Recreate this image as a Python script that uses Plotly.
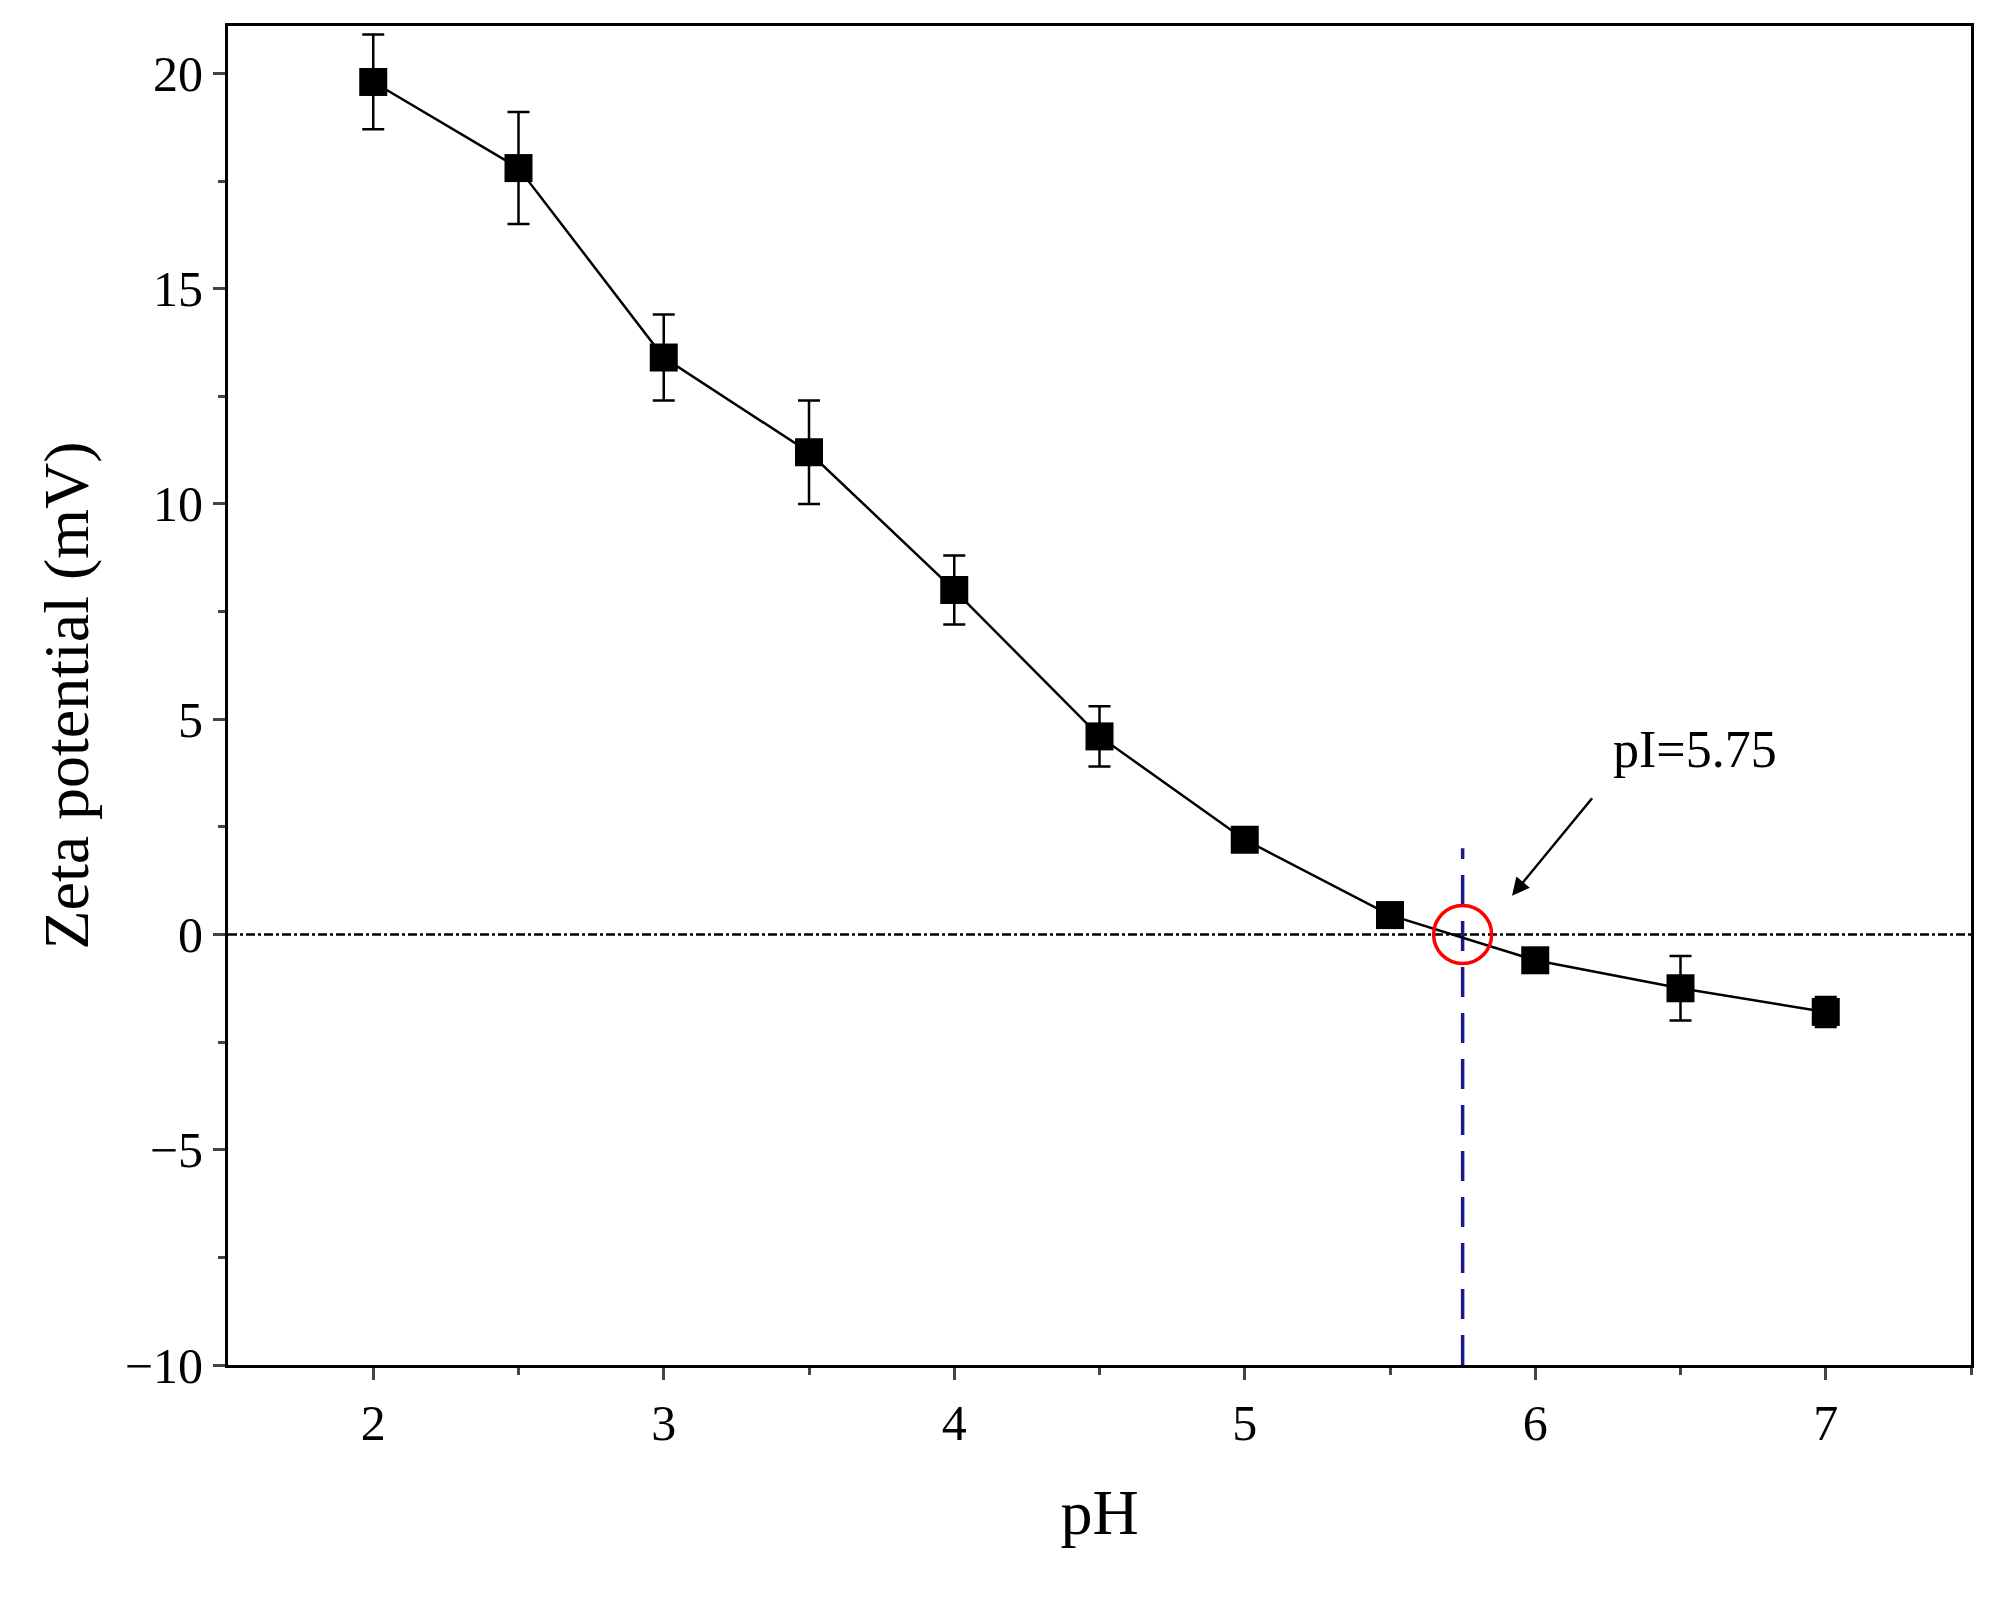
import plotly.graph_objects as go

ph = [2, 2.5, 3, 3.5, 4, 4.5, 5, 5.5, 6, 6.5, 7]
zeta = [19.8, 17.8, 13.4, 11.2, 8.0, 4.6, 2.2, 0.45, -0.6, -1.25, -1.8]
err = [1.1, 1.3, 1.0, 1.2, 0.8, 0.7, 0.2, 0.2, 0.2, 0.75, 0.35]
pI = 5.75

fig = go.Figure()
fig.add_trace(go.Scatter(x=[1.5, 7.5], y=[0, 0], mode="lines",
                         line=dict(color="black", width=2.5, dash="dashdot"), showlegend=False))
fig.add_trace(go.Scatter(x=[pI, pI], y=[-10, 2], mode="lines",
                         line=dict(color="#1a1a8c", width=3.5, dash="30px,16px"), showlegend=False))
fig.add_trace(go.Scatter(x=ph, y=zeta, mode="lines+markers",
                         line=dict(color="black", width=2.5),
                         marker=dict(symbol="square", size=28, color="black"),
                         error_y=dict(type="data", array=err, color="black", thickness=2.5, width=11),
                         showlegend=False))
fig.add_trace(go.Scatter(x=[pI], y=[0], mode="markers",
                         marker=dict(symbol="circle-open", size=58, color="red", line=dict(width=3.5, color="red")),
                         showlegend=False))
fig.add_annotation(x=5.92, y=0.9, ax=6.2, ay=3.2, xref="x", yref="y", axref="x", ayref="y",
                   showarrow=True, arrowhead=2, arrowsize=1.4, arrowwidth=2.5, arrowcolor="black", text="")
fig.add_annotation(x=6.55, y=4.3, text="pI=5.75", showarrow=False,
                   font=dict(size=52, color="black", family="Liberation Serif"))

fig.update_layout(
    width=2001, height=1605, plot_bgcolor="white", paper_bgcolor="white",
    margin=dict(l=220, r=38, t=18, b=248),
    font=dict(family="Liberation Serif", size=50, color="black"),
)
fig.update_xaxes(range=[1.5, 7.5], tickvals=[2, 3, 4, 5, 6, 7], ticks="outside", ticklen=12, tickwidth=2.5,
                 minor=dict(tickvals=[2.5, 3.5, 4.5, 5.5, 6.5, 7.5], ticks="outside", ticklen=7, tickwidth=2.5),
                 showline=True, linewidth=3, linecolor="black", mirror=True, showgrid=False, zeroline=False,
                 title=dict(text="pH", font=dict(size=64), standoff=40))
fig.update_yaxes(range=[-10, 21.1], tickvals=[-10, -5, 0, 5, 10, 15, 20],
                 ticktext=["−10", "−5", "0", "5", "10", "15", "20"], ticks="outside", ticklen=12, tickwidth=2.5,
                 minor=dict(tickvals=[-7.5, -2.5, 2.5, 7.5, 12.5, 17.5], ticks="outside", ticklen=7, tickwidth=2.5),
                 showline=True, linewidth=3, linecolor="black", mirror=True, showgrid=False, zeroline=False,
                 title=dict(text="Zeta potential (mV)", font=dict(size=64), standoff=16))
fig.write_html("out.html")
